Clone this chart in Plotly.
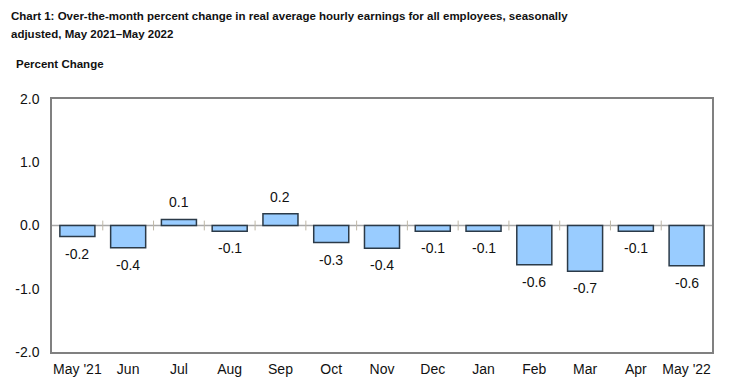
import plotly.graph_objects as go

months = ["May '21", "Jun", "Jul", "Aug", "Sep", "Oct", "Nov", "Dec", "Jan", "Feb", "Mar", "Apr", "May '22"]
values = [-0.175, -0.35, 0.095, -0.09, 0.185, -0.27, -0.36, -0.09, -0.09, -0.62, -0.725, -0.09, -0.635]
labels = ["-0.2", "-0.4", "0.1", "-0.1", "0.2", "-0.3", "-0.4", "-0.1", "-0.1", "-0.6", "-0.7", "-0.1", "-0.6"]
y_ticks = [2.0, 1.0, 0.0, -1.0, -2.0]
y_ticktext = ["2.0", "1.0", "0.0", "-1.0", "-2.0"]
title_lines = ["Chart 1: Over-the-month percent change in real average hourly earnings for all employees, seasonally",
               "adjusted, May 2021–May 2022"]
y_title = "Percent Change"

xs = list(range(len(months)))
FONT = "Liberation Sans, Arial, sans-serif"

# page body has an 8px margin; figure is sized so it fits the 730x390 window
W, H = 722, 382
L, R, T, B = 44, 18, 91, 38
PW, PH = W - L - R, H - T - B

def px(xp):
    return (xp - L) / PW

def py(yp):
    return 1 - (yp - T) / PH

fig = go.Figure()

fig.add_shape(type="line", xref="x", yref="y", x0=-0.5, x1=len(months) - 0.5, y0=0, y1=0,
              line=dict(color="#A8A8A8", width=1.5), layer="below")

fig.add_trace(go.Bar(
    x=xs, y=values, width=0.69,
    marker=dict(color="#99CCFF", line=dict(color="#2B3A48", width=1.5)),
    hoverinfo="skip", showlegend=False,
))

fig.add_trace(go.Scatter(
    x=[i + 0.5 for i in xs[:-1]], y=[0] * (len(xs) - 1), mode="markers",
    marker=dict(symbol="line-ns", size=7, line=dict(color="#BFB8A8", width=1)),
    hoverinfo="skip", showlegend=False,
))

for x, v, t in zip(xs, values, labels):
    fig.add_annotation(x=x, y=v, text=t, showarrow=False,
                       yanchor="bottom" if v >= 0 else "top",
                       yshift=7 if v >= 0 else -7,
                       font=dict(family=FONT, size=14, color="#111111"))

for line, yc in zip(title_lines, [8, 26]):
    fig.add_annotation(xref="paper", yref="paper", x=px(1), y=py(yc), xanchor="left", yanchor="middle",
                       showarrow=False, text="<b>" + line + "</b>",
                       font=dict(family=FONT, size=11.5, color="#111111"))
fig.add_annotation(xref="paper", yref="paper", x=px(6), y=py(56), xanchor="left", yanchor="middle",
                   showarrow=False, text="<b>" + y_title + "</b>",
                   font=dict(family=FONT, size=11.5, color="#111111"))

fig.update_layout(
    width=W, height=H,
    margin=dict(l=L, r=R, t=T, b=B, pad=0),
    paper_bgcolor="white", plot_bgcolor="white",
    font=dict(family=FONT, size=14, color="#111111"),
    xaxis=dict(range=[-0.5, len(months) - 0.5], tickvals=xs, ticktext=months,
               showgrid=False, zeroline=False, showline=True, mirror=True,
               linecolor="#808080", linewidth=1.5, ticks="outside", ticklen=3,
               tickcolor="rgba(0,0,0,0)", fixedrange=True, automargin=False),
    yaxis=dict(range=[-2, 2], tickvals=y_ticks, ticktext=y_ticktext,
               showgrid=False, zeroline=False, showline=True, mirror=True,
               linecolor="#808080", linewidth=1.5, ticks="", ticklabelstandoff=8,
               fixedrange=True, automargin=False),
)

fig.write_html("out.html")
